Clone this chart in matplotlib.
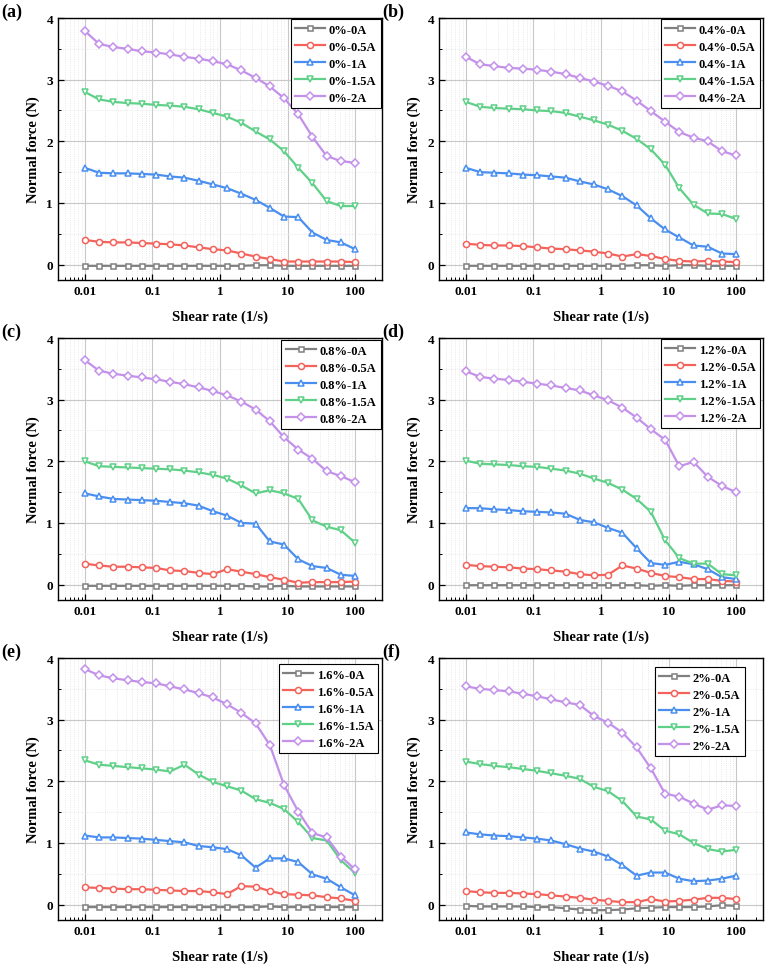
import numpy as np
import matplotlib.pyplot as plt
from matplotlib.ticker import MultipleLocator, LogLocator, FixedLocator, NullFormatter

plt.rcParams['font.family'] = ['Liberation Serif', 'DejaVu Serif']
plt.rcParams['font.weight'] = 'bold'

# shear rate points (1/s)
shear_rate = [0.01, 0.0162, 0.0264, 0.0428, 0.0695, 0.113, 0.183, 0.298, 0.483, 0.785,
              1.27, 2.07, 3.36, 5.46, 8.86, 14.4, 23.4, 37.9, 61.6, 100]

currents = ["0A", "0.5A", "1A", "1.5A", "2A"]
contents = ["0%", "0.4%", "0.8%", "1.2%", "1.6%", "2%"]
panel_tags = ["(a)", "(b)", "(c)", "(d)", "(e)", "(f)"]

# ---------------------------------------------
# Normal force (N)
# ---------------------------------------------

a_0 = [-0.02, -0.02, -0.02, -0.02, -0.02, -0.02, -0.02, -0.02, -0.02, -0.02,
       -0.02, -0.02, -0.01, -0.01, -0.02, -0.02, -0.02, -0.02, -0.02, -0.02]
a_05 = [0.40, 0.37, 0.36, 0.36, 0.35, 0.34, 0.33, 0.31, 0.28, 0.25,
        0.23, 0.18, 0.13, 0.09, 0.05, 0.05, 0.05, 0.05, 0.05, 0.04]
a_1 = [1.57, 1.49, 1.48, 1.48, 1.47, 1.46, 1.43, 1.41, 1.36, 1.30,
       1.24, 1.15, 1.05, 0.92, 0.78, 0.77, 0.52, 0.40, 0.36, 0.25]
a_15 = [2.80, 2.68, 2.64, 2.62, 2.61, 2.59, 2.58, 2.56, 2.52, 2.46,
        2.40, 2.30, 2.16, 2.03, 1.84, 1.57, 1.32, 1.03, 0.95, 0.95]
a_2 = [3.79, 3.58, 3.53, 3.50, 3.46, 3.44, 3.41, 3.37, 3.34, 3.30,
       3.25, 3.15, 3.03, 2.89, 2.70, 2.44, 2.07, 1.76, 1.68, 1.65]

b_0 = [-0.02, -0.02, -0.02, -0.02, -0.02, -0.02, -0.02, -0.02, -0.02, -0.02,
       -0.02, -0.02, -0.01, -0.01, -0.02, -0.01, -0.01, -0.02, -0.02, -0.02]
b_05 = [0.34, 0.32, 0.31, 0.31, 0.30, 0.28, 0.26, 0.25, 0.23, 0.21,
        0.18, 0.13, 0.17, 0.14, 0.09, 0.06, 0.05, 0.06, 0.05, 0.04]
b_1 = [1.57, 1.50, 1.49, 1.48, 1.46, 1.45, 1.43, 1.41, 1.35, 1.30,
       1.22, 1.11, 0.96, 0.75, 0.57, 0.44, 0.31, 0.29, 0.18, 0.17]
b_15 = [2.64, 2.56, 2.54, 2.53, 2.52, 2.50, 2.49, 2.46, 2.40, 2.34,
        2.27, 2.17, 2.04, 1.87, 1.62, 1.24, 0.97, 0.83, 0.82, 0.74]
b_2 = [3.37, 3.25, 3.22, 3.19, 3.18, 3.16, 3.13, 3.09, 3.03, 2.97,
       2.90, 2.81, 2.66, 2.49, 2.32, 2.15, 2.06, 2.00, 1.84, 1.77]

c_0 = [-0.02, -0.02, -0.02, -0.02, -0.02, -0.02, -0.02, -0.02, -0.02, -0.02,
       -0.02, -0.02, -0.03, -0.03, -0.02, -0.03, -0.03, -0.03, -0.03, -0.03]
c_05 = [0.34, 0.31, 0.29, 0.29, 0.28, 0.27, 0.23, 0.22, 0.19, 0.17,
        0.25, 0.21, 0.17, 0.12, 0.08, 0.03, 0.04, 0.04, 0.04, 0.05]
c_1 = [1.48, 1.43, 1.39, 1.38, 1.37, 1.36, 1.34, 1.32, 1.28, 1.19,
       1.12, 1.00, 0.99, 0.70, 0.65, 0.41, 0.30, 0.27, 0.16, 0.14]
c_15 = [2.00, 1.92, 1.91, 1.90, 1.89, 1.88, 1.87, 1.85, 1.82, 1.78,
        1.72, 1.61, 1.48, 1.53, 1.48, 1.39, 1.04, 0.94, 0.88, 0.68]
c_2 = [3.64, 3.47, 3.42, 3.39, 3.36, 3.33, 3.29, 3.25, 3.20, 3.14,
       3.07, 2.97, 2.84, 2.65, 2.39, 2.19, 2.04, 1.84, 1.76, 1.66]

d_0 = [-0.01, -0.01, -0.01, -0.01, -0.01, -0.01, -0.01, -0.01, -0.01, -0.01,
       -0.01, -0.01, -0.01, -0.02, -0.01, -0.02, -0.01, -0.01, -0.01, -0.01]
d_05 = [0.32, 0.30, 0.29, 0.28, 0.26, 0.25, 0.23, 0.21, 0.17, 0.15,
        0.16, 0.31, 0.26, 0.19, 0.14, 0.12, 0.09, 0.09, 0.06, 0.05]
d_1 = [1.24, 1.24, 1.22, 1.21, 1.19, 1.18, 1.17, 1.15, 1.05, 1.01,
       0.92, 0.84, 0.59, 0.35, 0.32, 0.37, 0.33, 0.25, 0.12, 0.09]
d_15 = [2.01, 1.96, 1.95, 1.94, 1.92, 1.91, 1.88, 1.85, 1.80, 1.72,
        1.65, 1.54, 1.39, 1.18, 0.72, 0.43, 0.34, 0.34, 0.17, 0.15]
d_2 = [3.46, 3.37, 3.34, 3.32, 3.29, 3.26, 3.23, 3.19, 3.15, 3.07,
       2.99, 2.87, 2.71, 2.52, 2.35, 1.92, 1.99, 1.75, 1.60, 1.50]

e_0 = [-0.04, -0.04, -0.04, -0.04, -0.04, -0.04, -0.04, -0.04, -0.04, -0.04,
       -0.04, -0.04, -0.04, -0.03, -0.04, -0.04, -0.04, -0.04, -0.04, -0.04]
e_05 = [0.28, 0.27, 0.26, 0.25, 0.25, 0.24, 0.23, 0.22, 0.22, 0.20,
        0.17, 0.30, 0.29, 0.22, 0.17, 0.16, 0.15, 0.12, 0.10, 0.06]
e_1 = [1.12, 1.09, 1.09, 1.08, 1.07, 1.05, 1.03, 1.01, 0.95, 0.93,
       0.90, 0.80, 0.60, 0.75, 0.75, 0.69, 0.49, 0.42, 0.28, 0.15]
e_15 = [2.34, 2.27, 2.25, 2.23, 2.21, 2.19, 2.16, 2.27, 2.11, 1.99,
        1.92, 1.85, 1.71, 1.65, 1.55, 1.34, 1.08, 1.04, 0.72, 0.51]
e_2 = [3.82, 3.72, 3.67, 3.64, 3.61, 3.59, 3.54, 3.49, 3.43, 3.36,
       3.25, 3.11, 2.94, 2.59, 1.94, 1.51, 1.16, 1.09, 0.78, 0.57]

f_0 = [-0.02, -0.03, -0.03, -0.03, -0.03, -0.04, -0.04, -0.06, -0.08, -0.09,
       -0.09, -0.08, -0.06, -0.05, -0.04, -0.04, -0.04, -0.03, -0.01, -0.02]
f_05 = [0.22, 0.20, 0.19, 0.19, 0.18, 0.17, 0.15, 0.13, 0.11, 0.08,
        0.06, 0.04, 0.04, 0.09, 0.05, 0.06, 0.08, 0.11, 0.11, 0.09]
f_1 = [1.17, 1.14, 1.12, 1.11, 1.09, 1.07, 1.04, 0.98, 0.91, 0.86,
       0.78, 0.64, 0.47, 0.52, 0.52, 0.42, 0.38, 0.39, 0.42, 0.47]
f_15 = [2.32, 2.28, 2.25, 2.23, 2.20, 2.17, 2.13, 2.09, 2.04, 1.91,
        1.84, 1.68, 1.43, 1.38, 1.20, 1.14, 1.00, 0.90, 0.86, 0.89]
f_2 = [3.54, 3.50, 3.48, 3.46, 3.42, 3.38, 3.33, 3.28, 3.24, 3.06,
       2.95, 2.79, 2.55, 2.21, 1.80, 1.75, 1.64, 1.54, 1.61, 1.60]

panels = [
    [a_0, a_05, a_1, a_15, a_2],
    [b_0, b_05, b_1, b_15, b_2],
    [c_0, c_05, c_1, c_15, c_2],
    [d_0, d_05, d_1, d_15, d_2],
    [e_0, e_05, e_1, e_15, e_2],
    [f_0, f_05, f_1, f_15, f_2],
]

colors = ["#808080", "#f4625c", "#4a8ff0", "#5fd088", "#c390ea"]
markers = ["s", "o", "^", "v", "D"]
msizes = [3.6, 4.4, 5, 5, 4.4]

# legend corner offset from the axes' top-right corner, in pixels (right, down)
legend_offsets = [(0, 0), (2, 0), (0, 1), (2, 0), (3, 5), (17, 8)]

# ---------------------------------------------
# Figure layout (pixel-matched)
# ---------------------------------------------

fig = plt.figure(figsize=(7.72, 9.70), dpi=100)

lefts = [0.0751, 0.5687]
tops = [0.9804, 0.6505, 0.3206]
w, h = 0.4197, 0.2701
ax_w_px, ax_h_px = w * 772, h * 970

for i, series in enumerate(panels):
    row, col = divmod(i, 2)
    ax = fig.add_axes([lefts[col], tops[row] - h, w, h])

    for k, vals in enumerate(series):
        ax.plot(shear_rate, vals, color=colors[k], marker=markers[k],
                markersize=msizes[k], markerfacecolor="white",
                markeredgecolor=colors[k], markeredgewidth=1.1,
                linewidth=1.6, label=f"{contents[i]}-{currents[k]}", zorder=3)

    ax.set_xscale("log")
    ax.set_xlim(0.004, 250)
    ax.set_ylim(-0.25, 4)
    ax.xaxis.set_major_locator(FixedLocator([0.01, 0.1, 1, 10, 100]))
    ax.set_xticklabels(["0.01", "0.1", "1", "10", "100"])
    ax.xaxis.set_minor_locator(LogLocator(base=10, subs=np.arange(2, 10), numticks=20))
    ax.xaxis.set_minor_formatter(NullFormatter())
    ax.yaxis.set_major_locator(MultipleLocator(1))
    ax.yaxis.set_minor_locator(MultipleLocator(0.5))

    ax.grid(which="major", color="#c8c8c8", linewidth=0.8, zorder=0)
    ax.grid(which="minor", color="#e2e2e2", linewidth=0.6, linestyle=":", zorder=0)

    ax.tick_params(which="both", direction="in", labelsize=9.5)
    ax.tick_params(which="major", length=4, width=0.9)
    ax.tick_params(which="minor", length=2.2, width=0.7)
    for lab in ax.get_xticklabels() + ax.get_yticklabels():
        lab.set_fontweight("bold")
    for sp in ax.spines.values():
        sp.set_linewidth(1.0)

    ax.set_xlabel("Shear rate (1/s)", fontsize=10.5, fontweight="bold", labelpad=9)
    ax.set_ylabel("Normal force (N)", fontsize=10.5, fontweight="bold", labelpad=5)

    dx, dy = legend_offsets[i]
    leg = ax.legend(loc="upper right",
                    bbox_to_anchor=(1 - dx / ax_w_px, 1 - dy / ax_h_px),
                    borderaxespad=0.1, fontsize=9, handlelength=2.4,
                    fancybox=False, edgecolor="black", framealpha=1,
                    labelspacing=0.4, handletextpad=0.3, borderpad=0.35)
    leg.get_frame().set_linewidth(0.8)
    for t in leg.get_texts():
        t.set_fontweight("bold")

    fig.text(lefts[col] - 0.073, tops[row] + 0.007, panel_tags[i],
             fontsize=13, fontweight="bold", ha="left", va="center")

plt.savefig("out.png", dpi=100)
